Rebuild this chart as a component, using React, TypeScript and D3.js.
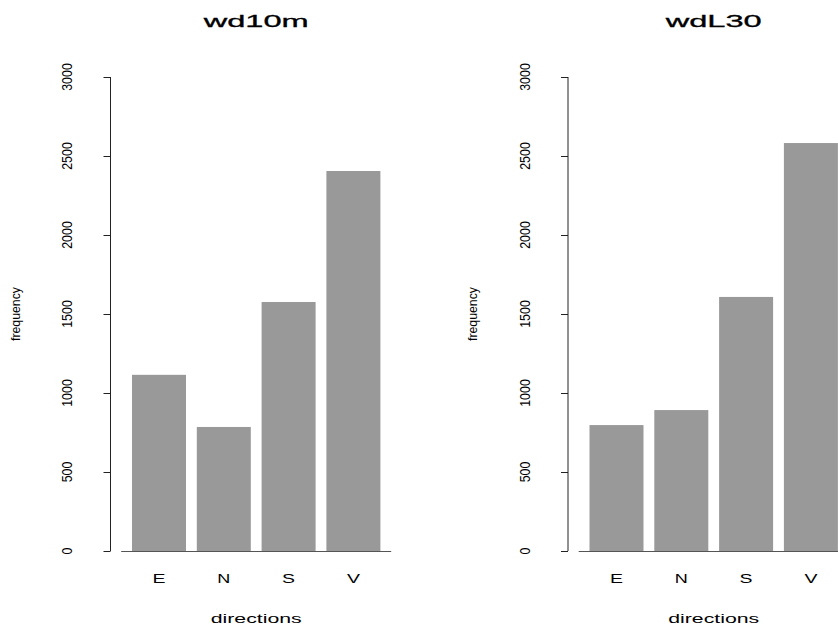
import React from "react";
import * as d3 from "d3";

const categories = ["E", "N", "S", "V"];
const wd10m = [1115, 785, 1576, 2405];
const wdL30 = [797, 892, 1608, 2582];
const yTicks = [0, 500, 1000, 1500, 2000, 2500, 3000];
const panelTitles = ["wd10m", "wdL30"];

const W = 838;
const H = 629;
const FONT = "'Liberation Sans', Arial, Helvetica, sans-serif";

function Panel({ title, values, offset, titleLen }: { title: string; values: number[]; offset: number; titleLen: number }) {
  const x = d3.scaleLinear().domain([0, 5]).range([121.2 + offset, 391.2 + offset]);
  const y = d3.scaleLinear().domain([0, 3000]).range([551, 77]);
  const axisX = 110.5 + offset;
  const bars = values.map((v, i) => ({ cat: categories[i], v, u0: 0.2 + 1.2 * i, u1: 1.2 + 1.2 * i }));
  const cx = (x(0.2) + x(4.8)) / 2;
  return (
    <g>
      <text x={cx} y={27} textAnchor="middle" fontFamily={FONT} fontWeight="normal" fontSize={17}
        stroke="#000" strokeWidth={0.3}
        textLength={titleLen} lengthAdjust="spacingAndGlyphs" fill="#000">{title}</text>
      {bars.map((b) => (
        <rect key={b.cat} x={x(b.u0)} y={y(b.v)} width={x(b.u1) - x(b.u0)} height={y(0) - y(b.v)} fill="#999999" />
      ))}
      <line x1={x(0)} x2={x(5)} y1={y(0) + 0.5} y2={y(0) + 0.5} stroke="#555" strokeWidth={1} />
      <line x1={axisX} x2={axisX} y1={y(0)} y2={y(3000)} stroke="#222" strokeWidth={1} />
      {yTicks.map((t) => (
        <g key={t}>
          <line x1={axisX - 7} x2={axisX} y1={Math.round(y(t)) + 0.5} y2={Math.round(y(t)) + 0.5} stroke="#222" strokeWidth={1} />
          <text transform={`translate(${72 + offset},${y(t)}) rotate(-90)`} textAnchor="middle" fontFamily={FONT}
            fontSize={14} textLength={String(t).length * 6.9} lengthAdjust="spacingAndGlyphs" fill="#000">{t}</text>
        </g>
      ))}
      {bars.map((b) => (
        <text key={b.cat + "l"} x={(x(b.u0) + x(b.u1)) / 2} y={583} textAnchor="middle" fontFamily={FONT}
          fontSize={12.5} textLength={13} lengthAdjust="spacingAndGlyphs" fill="#000">{b.cat}</text>
      ))}
      <text x={cx} y={623} textAnchor="middle" fontFamily={FONT} fontSize={13} textLength={91}
        lengthAdjust="spacingAndGlyphs" fill="#000">directions</text>
      <text transform={`translate(${19.5 + offset},${(y(0) + y(3000)) / 2}) rotate(-90)`} textAnchor="middle"
        fontFamily={FONT} fontSize={13} textLength={54} lengthAdjust="spacingAndGlyphs" fill="#000">frequency</text>
    </g>
  );
}

export default function App() {
  return (
    <svg width={W} height={H} style={{ position: "absolute", left: 0, top: 0, background: "#fff" }}>
      <rect width={W} height={H} fill="#fff" />
      <Panel title={panelTitles[0]} values={wd10m} offset={0} titleLen={105} />
      <Panel title={panelTitles[1]} values={wdL30} offset={457.5} titleLen={96} />
    </svg>
  );
}
